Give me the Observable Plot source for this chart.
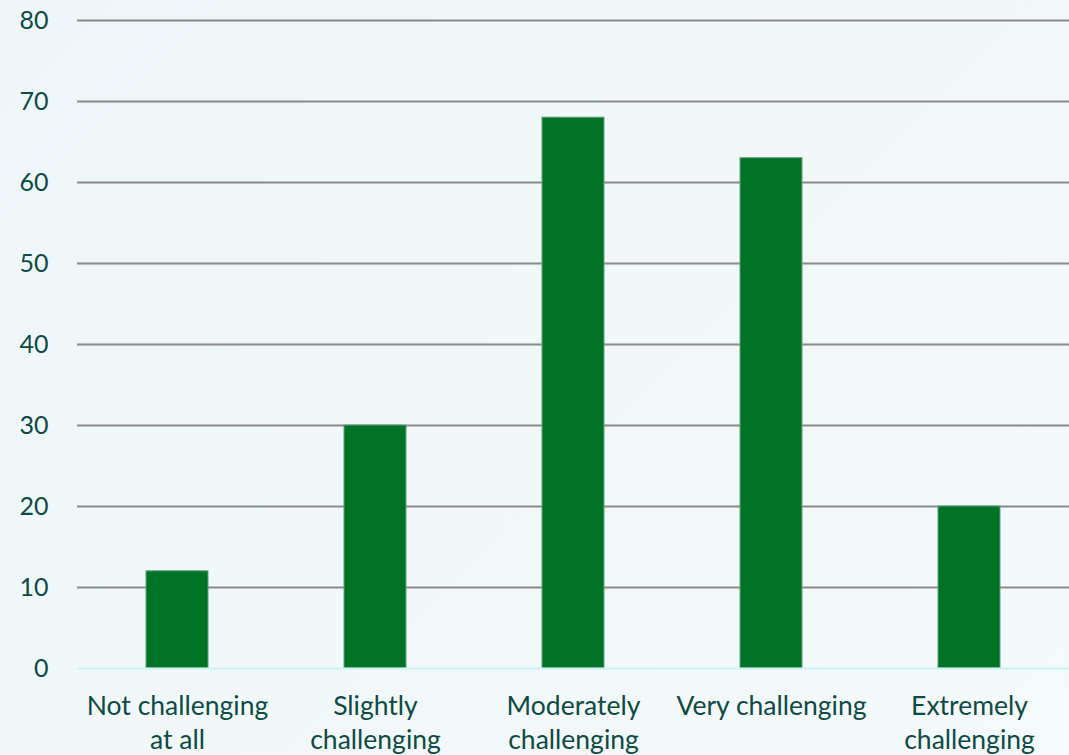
<!DOCTYPE html>
<html>
<head>
<meta charset="utf-8">
<script src="https://cdn.jsdelivr.net/npm/d3@7"></script>
<script src="https://cdn.jsdelivr.net/npm/@observablehq/plot@0.6"></script>
<style>
  html, body { margin: 0; padding: 0; }
  body { width: 1069px; height: 755px; overflow: hidden;
         background: linear-gradient(135deg, #eef6f9 0%, #f2f8fa 60%, #f4f9fb 100%); }
  #chart svg { display: block; }
</style>
</head>
<body>
<div id="chart"></div>
<script>
const categories = ["Not challenging at all", "Slightly challenging", "Moderately challenging", "Very challenging", "Extremely challenging"];
const tickLabels = ["Not challenging\nat all", "Slightly\nchallenging", "Moderately\nchallenging", "Very challenging", "Extremely\nchallenging"];
const values = [12, 30, 68, 63, 20];
const yTicks = [0, 10, 20, 30, 40, 50, 60, 70, 80];

const data = categories.map((c, i) => ({category: c, value: values[i]}));
const labelOf = new Map(categories.map((c, i) => [c, tickLabels[i]]));

const chart = Plot.plot({
  width: 1069,
  height: 755,
  marginLeft: 77,
  marginRight: 0,
  marginTop: 20,
  marginBottom: 87,
  style: { background: "transparent", fontFamily: "Lato, sans-serif", fontSize: "26px", color: "#0e4a44" },
  x: { domain: categories, paddingInner: 0.687, paddingOuter: 0.3435, align: 0.5, label: null },
  y: { domain: [0, 80], label: null },
  marks: [
    Plot.ruleY(yTicks.filter(d => d > 0), { stroke: "#8a8a8a", strokeWidth: 2 }),
    Plot.barY(data, { x: "category", y: "value", fill: "#007326", stroke: "#5fa07a", strokeWidth: 1 }),
    Plot.ruleY([0], { stroke: "#c9f3f3", strokeWidth: 2 }),
    Plot.axisY({ ticks: yTicks, tickSize: 0, tickPadding: 29, label: null, fill: "#0e4a44", fontSize: 25 }),
    Plot.axisX({ tickSize: 0, tickPadding: 22, label: null, tickFormat: d => labelOf.get(d), lineHeight: 1.3, fill: "#0e4a44", fontSize: 26.5 })
  ]
});
document.getElementById("chart").appendChild(chart);
</script>
</body>
</html>
